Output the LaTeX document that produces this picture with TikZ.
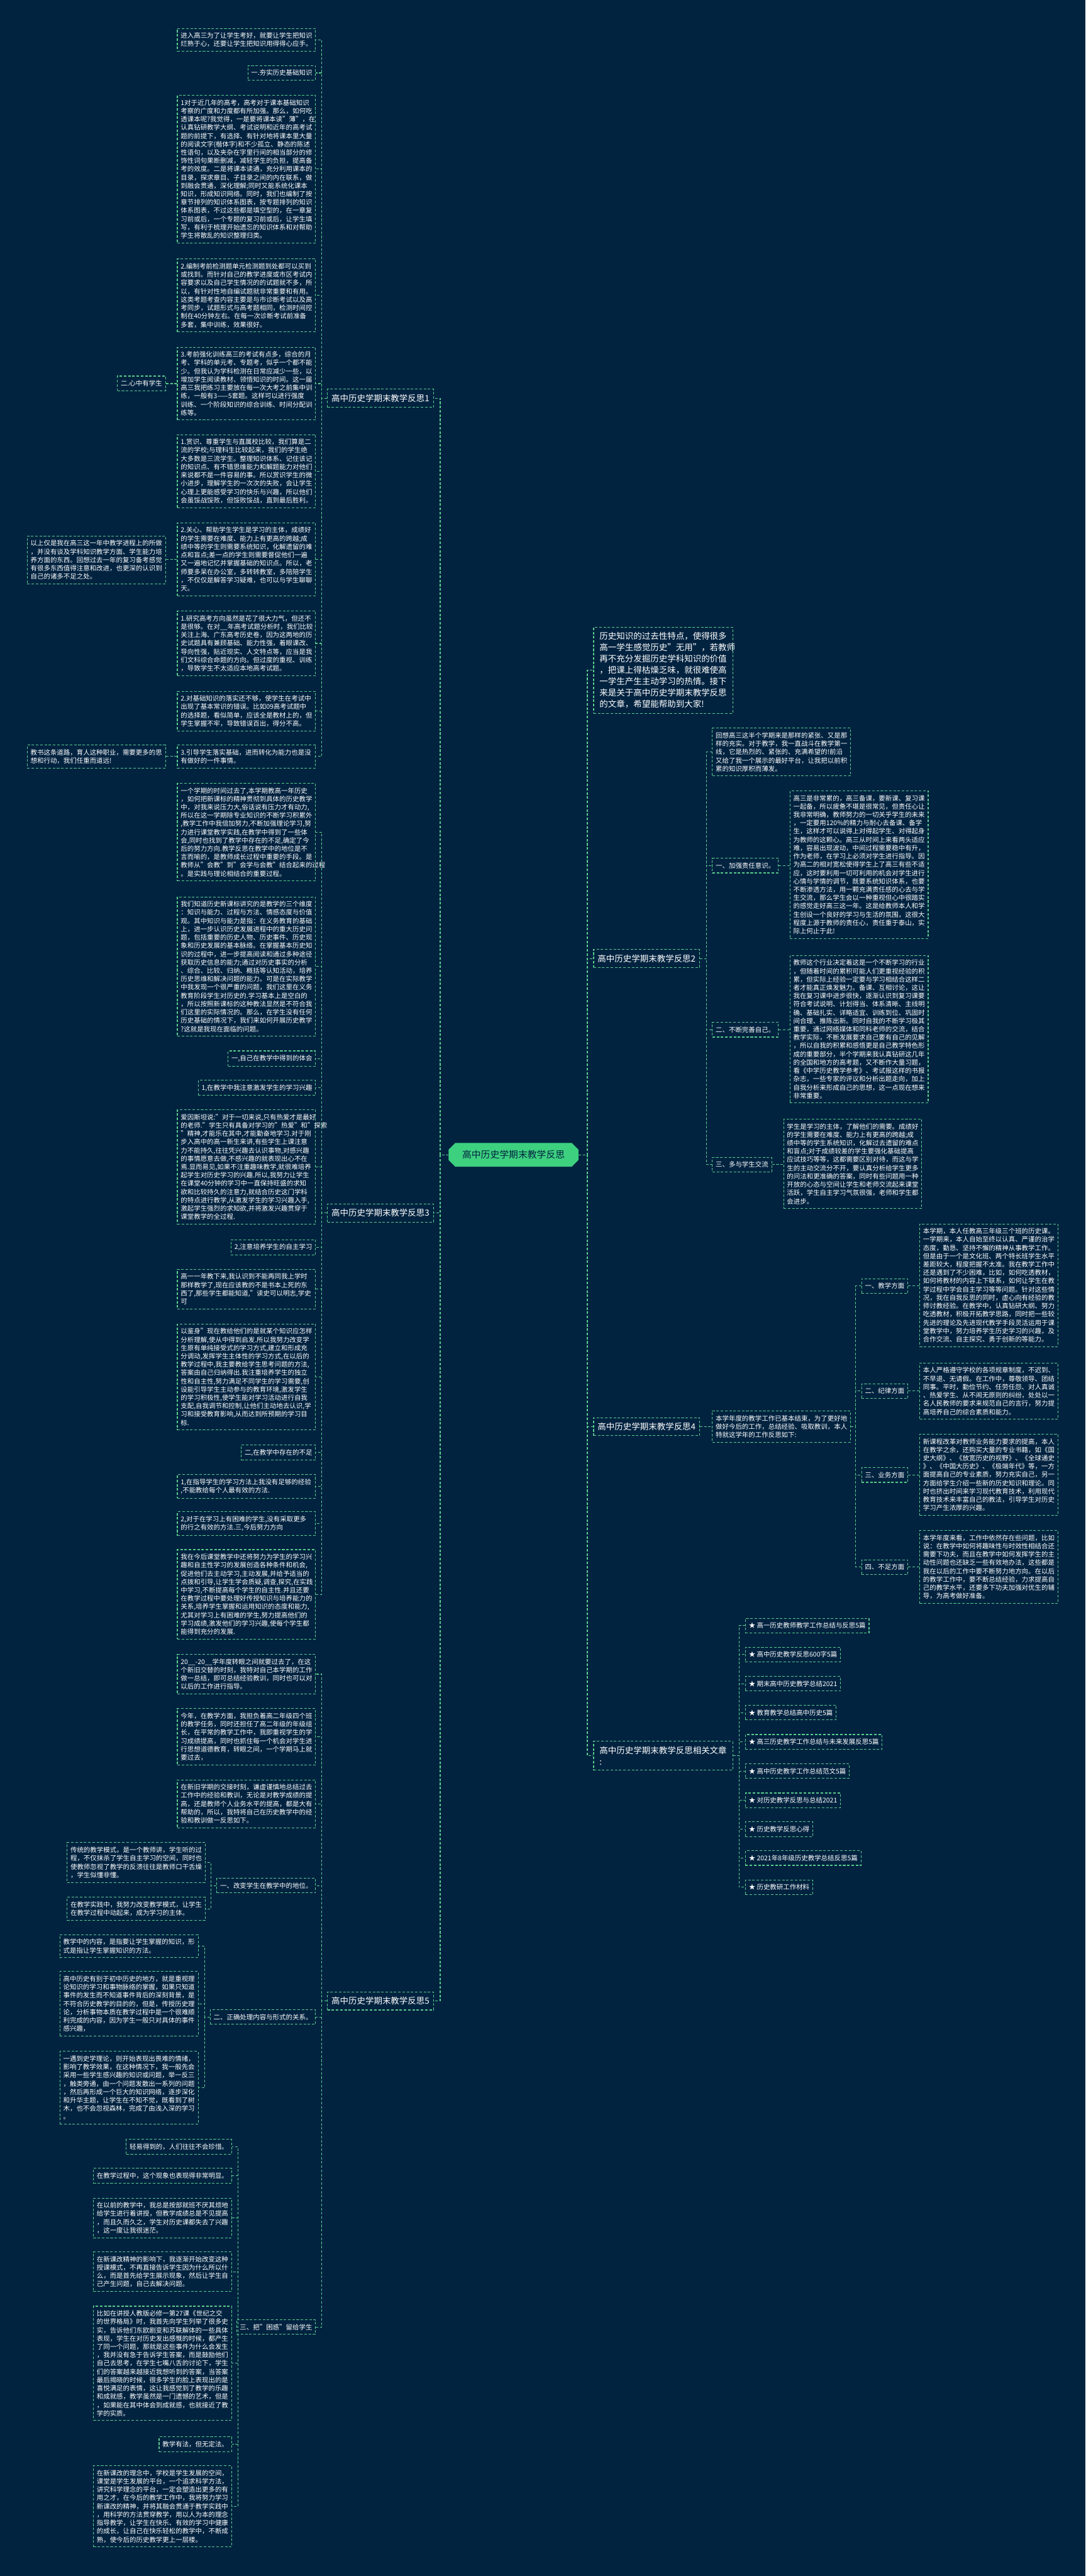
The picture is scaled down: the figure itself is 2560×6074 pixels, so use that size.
\documentclass[tikz,border=0pt]{standalone}
\usepackage{fontspec}
\setmainfont{Noto Sans CJK SC}
\usetikzlibrary{shapes.misc}
\definecolor{bgnavy}{HTML}{022340}
\definecolor{lineg}{HTML}{58CC8C}
\definecolor{rootg}{HTML}{3DD07F}
\newcommand\fsa{\fontsize{15.5pt}{19.6pt}\selectfont}
\newcommand\fsb{\fontsize{20pt}{26.7pt}\selectfont}
\newcommand\fsc{\fontsize{22pt}{28pt}\selectfont}

\begin{document}
\begin{tikzpicture}[x=1pt,y=-1pt,
  link/.style={draw=lineg,line width=1.6pt,dash pattern=on 6pt off 4pt},
  box/.style={link,text=white,font=\fsa,inner xsep=8pt,inner ysep=10pt,align=left},
  para/.style={box,text width=310pt},
  head/.style={box,font=\fsb,inner xsep=9.5pt,inner ysep=12pt},
  intro/.style={head,text width=300pt,inner xsep=14pt}]
\fill[bgnavy] (0,0) rectangle (2560,6074);

\node[chamfered rectangle,chamfered rectangle xsep=12pt,fill=rootg,text=bgnavy,font=\fsc,inner xsep=20pt,inner ysep=14pt] (root) at (1211,2723) {高中历史学期末教学反思};

% left branches
\node[head,anchor=east] (L1) at (1023,939) {高中历史学期末教学反思1};
\node[head,anchor=east] (L3) at (1023,2860) {高中历史学期末教学反思3};
\node[head,anchor=east] (L5) at (1023,4718) {高中历史学期末教学反思5};

\node[para,anchor=north east] (c1) at (745,66) {进入高三为了让学生考好，就要让学生把知识\\烂熟于心，还要让学生把知识用得得心应手。};
\node[box,anchor=east] (c2) at (745,172) {一.夯实历史基础知识};
\node[para,anchor=north east] (c3) at (745,224) {1对于近几年的高考，高考对于课本基础知识\\考察的广度和力度都有所加强。那么，如何吃\\透课本呢?我觉得，一是要将课本读"薄"，在\\认真钻研教学大纲、考试说明和近年的高考试\\题的前提下，有选择、有针对地将课本里大量\\的阅读文字(楷体字)和不少孤立、静态的陈述\\性语句，以及夹杂在字里行间的相当部分的修\\饰性词句果断删减，减轻学生的负担，提高备\\考的效度。二是将课本读通，充分利用课本的\\目录，探求章目、子目录之间的内在联系，做\\到融会贯通，深化理解;同时又能系统化课本\\知识，形成知识网络。同时，我们也编制了按\\章节排列的知识体系图表，按专题排列的知识\\体系图表，不过这些都是填空型的，在一章复\\习前或后，一个专题的复习前或后，让学生填\\写，有利于梳理开始遗忘的知识体系和对帮助\\学生将散乱的知识整理归类。};
\node[para,anchor=north east] (c4) at (745,610) {2.编制考前检测题单元检测题到处都可以买到\\或找到。而针对自己的教学进度或市区考试内\\容要求以及自己学生情况的的试题就不多，所\\以，有针对性地自编试题就非常重要和有用。\\这类考题考查内容主要是与市诊断考试以及高\\考同步，试题形式与高考题相同，检测时间控\\制在40分钟左右。在每一次诊断考试前准备\\多套，集中训练，效果很好。};
\node[para,anchor=north east] (c5) at (745,818) {3.考前强化训练高三的考试有点多，综合的月\\考、学科的单元考、专题考，似乎一个都不能\\少。但我认为学科检测在日常应减少一些，以\\增加学生阅读教材、领悟知识的时间。这一届\\高三我把练习主要放在每一次大考之前集中训\\练，一般有3——5套题。这样可以进行强度\\训练、一个阶段知识的综合训练、时间分配训\\练等。};
\node[para,anchor=north east] (c6) at (745,1024) {1.赏识、尊重学生与直属校比较，我们算是二\\流的学校;与理科生比较起来，我们的学生绝\\大多数是三流学生。整理知识体系、记住该记\\的知识点、有不错思维能力和解题能力对他们\\来说都不是一件容易的事。所以赏识学生的微\\小进步，理解学生的一次次的失败，会让学生\\心理上更能感受学习的快乐与兴趣，所以他们\\会虽馁战馁败，但馁败馁战，直到最后胜利。};
\node[para,anchor=north east] (c7) at (745,1232) {2.关心、帮助学生学生是学习的主体，成绩好\\的学生需要在难度、能力上有更高的跨越;成\\绩中等的学生则需要系统知识，化解遗留的难\\点和盲点;差一点的学生则需要督促他们一遍\\又一遍地记忆并掌握基础的知识点。所以，老\\师要多呆在办公室，多转转教室，多陪陪学生\\，不仅仅是解答学习疑难，也可以与学生聊聊\\天。};
\node[para,anchor=north east] (c8) at (745,1440) {1.研究高考方向虽然是花了很大力气，但还不\\是很够。在对\_\_年高考试题分析时，我们比较\\关注上海、广东高考历史卷，因为这两地的历\\史试题具有兼顾基础、能力性强，着眼课改、\\导向性强，贴近现实、人文特点等，应当是我\\们文科综合命题的方向。但过度的重视、训练\\，导致学生不太适应本地高考试题。};
\node[para,anchor=north east] (c9) at (745,1629) {2.对基础知识的落实还不够，使学生在考试中\\出现了基本常识的错误。比如09高考试题中\\的选择题，看似简单，应该全是教材上的，但\\学生掌握不牢，导致错误百出，得分不高。};
\node[para,anchor=north east] (c10) at (745,1756) {3.引导学生落实基础，进而转化为能力也是没\\有做好的一件事情。};
\node[box,anchor=east] (k5) at (391,904) {二.心中有学生};
\node[para,anchor=north east] (k7) at (391,1263) {以上仅是我在高三这一年中教学进程上的所做\\，并没有谈及学科知识教学方面、学生能力培\\养方面的东西。回想过去一年的复习备考感觉\\有很多东西值得注意和改进，也更深的认识到\\自己的诸多不足之处。};
\node[para,anchor=north east] (k10) at (391,1756) {教书这条道路，育人这种职业，需要更多的思\\想和行动，我们任重而道远!};

\node[para,anchor=north east] (d1) at (745,1846) {一个学期的时间过去了,本学期教高一年历史\\，如何把新课标的精神贯彻到具体的历史教学\\中，对我来说压力大,俗话说有压力才有动力,\\所以在这一学期除专业知识的不断学习积累外\\,教学工作中我倍加努力,不断加强理论学习,努\\力进行课堂教学实践,在教学中得到了一些体\\会,同时也找到了教学中存在的不足,确定了今\\后的努力方向.教学反思在教学中的地位是不\\言而喻的，是教师成长过程中重要的手段。是\\教师从"会教"到"会学与会教"结合起来的过程\\。是实践与理论相结合的重要过程。};
\node[para,anchor=north east] (d2) at (745,2114) {我们知道历史新课标讲究的是教学的三个维度\\：知识与能力、过程与方法、情感态度与价值\\观。其中知识与能力是指：在义务教育的基础\\上，进一步认识历史发展进程中的重大历史问\\题，包括重要的历史人物、历史事件、历史现\\象和历史发展的基本脉络。在掌握基本历史知\\识的过程中，进一步提高阅读和通过多种途径\\获取历史信息的能力;通过对历史事实的分析\\、综合、比较、归纳、概括等认知活动，培养\\历史思维和解决问题的能力。可是在实际教学\\中我发现一个很严重的问题，我们这里在义务\\教育阶段学生对历史的.学习基本上是空白的\\，所以按照新课标的这种教法显然是不符合我\\们这里的实际情况的。那么，在学生没有任何\\历史基础的情况下，我们来如何开展历史教学\\?这就是我现在面临的问题。};
\node[box,anchor=east] (d3) at (745,2496) {一,自己在教学中得到的体会};
\node[box,anchor=east] (d4) at (745,2565) {1,在教学中我注意激发学生的学习兴趣};
\node[para,anchor=north east] (d5) at (745,2616) {爱因斯坦说:"对于一切来说,只有热爱才是最好\\的老师."学生只有具备对学习的"热爱"和"探索\\"精神,才能乐在其中,才能勤奋地学习.对于刚\\步入高中的高一新生来讲,有些学生上课注意\\力不能持久,往往凭兴趣去认识事物,对感兴趣\\的事情愿意去做,不感兴趣的就表现出心不在\\焉.显而易见,如果不注重趣味教学,就很难培养\\起学生对历史学习的兴趣.所以,我努力让学生\\在课堂40分钟的学习中一直保持旺盛的求知\\欲和比较持久的注意力,就结合历史这门学科\\的特点进行教学,从激发学生的学习兴趣入手,\\激起学生强烈的求知欲,并将激发兴趣贯穿于\\课堂教学的全过程.};
\node[box,anchor=east] (d6) at (745,2941) {2,注意培养学生的自主学习};
\node[para,anchor=north east] (d7) at (745,2992) {高一一年教下来,我认识到不能再同我上学时\\那样教学了,现在应该教的不是书本上死的东\\西了,那些学生都能知道,"读史可以明志,学史\\可};
\node[para,anchor=north east] (d8) at (745,3121) {以鉴身"现在教给他们的是就某个知识应怎样\\分析理解,使从中得到启发.所以我努力改变学\\生原有单纯接受式的学习方式,建立和形成充\\分调动,发挥学生主体性的学习方式,在以后的\\教学过程中,我主要教给学生思考问题的方法,\\答案由自己归纳得出.我注重培养学生的独立\\性和自主性,努力满足不同学生的学习需要,创\\设能引导学生主动参与的教育环境,激发学生\\的学习积极性,使学生能对学习活动进行自我\\支配,自我调节和控制,让他们主动地去认识,学\\习和接受教育影响,从而达到所预期的学习目\\标.};
\node[box,anchor=east] (d9) at (745,3425) {二,在教学中存在的不足};
\node[para,anchor=north east] (d10) at (745,3476) {1,在指导学生的学习方法上我没有足够的经验\\,不能教给每个人最有效的方法.};
\node[para,anchor=north east] (d11) at (745,3564) {2,对于在学习上有困难的学生,没有采取更多\\的行之有效的方法.三,今后努力方向};
\node[para,anchor=north east] (d12) at (745,3653) {我在今后课堂教学中还将努力为学生的学习兴\\趣和自主性学习的发展创造各种条件和机会,\\促进他们去主动学习,主动发展,并给予适当的\\点拨和引导,让学生学会质疑,调查,探究,在实践\\中学习,不断提高每个学生的自主性.并且还要\\在教学过程中要处理好传授知识与培养能力的\\关系,培养学生掌握和运用知识的态度和能力,\\尤其对学习上有困难的学生,努力提高他们的\\学习成绩,激发他们的学习兴趣,使每个学生都\\能得到充分的发展.};

\node[para,anchor=north east] (e1) at (745,3900) {20\_\_-20\_\_学年度转眼之间就要过去了，在这\\个新旧交替的时刻，我特对自己本学期的工作\\做一总结，即可总结经验教训，同时也可以对\\以后的工作进行指导。};
\node[para,anchor=north east] (e2) at (745,4028) {今年，在教学方面，我担负着高二年级四个班\\的教学任务，同时还担任了高二年级的年级组\\长，在平常的教学工作中，我即重视学生的学\\习成绩提高，同时也抓住每一个机会对学生进\\行思想道德教育，转眼之间，一个学期马上就\\要过去，};
\node[para,anchor=north east] (e3) at (745,4196) {在新旧学期的交接时刻，谦虚谨慎地总结过去\\工作中的经验和教训，无论是对教学成绩的提\\高，还是教师个人业务水平的提高，都是大有\\帮助的，所以，我特将自己在历史教学中的经\\验和教训做一反思如下。};
\node[box,anchor=east] (e4) at (745,4446) {一、改变学生在教学中的地位。};
\node[box,anchor=east] (e5) at (745,4756) {二、正确处理内容与形式的关系。};
\node[box,anchor=east] (e6) at (745,5487) {三、把"困惑"留给学生};
\node[para,anchor=north east] (f1) at (485,4344) {传统的教学模式，是一个教师讲，学生听的过\\程，不仅抹杀了学生自主学习的空间，同时也\\使教师忽视了教学的反溃往往是教师口干舌燥\\，学生似懂非懂。};
\node[para,anchor=north east] (f2) at (485,4473) {在教学实践中，我努力改变教学模式，让学生\\在教学过程中动起来，成为学习的主体。};
\node[para,anchor=north east] (g1) at (468,4561) {教学中的内容，是指要让学生掌握的知识，形\\式是指让学生掌握知识的方法。};
\node[para,anchor=north east] (g2) at (468,4648) {高中历史有别于初中历史的地方，就是重视理\\论知识的学习和事物脉络的掌握，如果只知道\\事件的发生而不知道事件背后的深刻背景，是\\不符合历史教学的目的的，但是，传授历史理\\论，分析事物本质在教学过程中是一个很难顺\\利完成的内容，因为学生一般只对具体的事件\\感兴趣，};
\node[para,anchor=north east] (g3) at (468,4836) {一遇到史学理论，则开始表现出畏难的情绪，\\影响了教学效果，在这种情况下，我一般先会\\采用一些学生感兴趣的知识或问题，举一反三\\，触类旁通，由一个问题发散出一系列的问题\\，然后再形成一个巨大的知识网络，逐步深化\\和升华主题，让学生在不知不觉，既看到了树\\木，也不会忽视森林，完成了由浅入深的学习\\。};
\node[box,anchor=east] (h1) at (547,5062) {轻易得到的，人们往往不会珍惜。};
\node[box,anchor=east] (h2) at (547,5130) {在教学过程中，这个现象也表现得非常明显。};
\node[para,anchor=north east] (h3) at (547,5182) {在以前的教学中，我总是按部就班不厌其烦地\\给学生进行着讲授，但教学成绩总是不见提高\\，而且久而久之，学生对历史课都失去了兴趣\\，这一度让我很迷茫。};
\node[para,anchor=north east] (h4) at (547,5309) {在新课改精神的影响下，我逐渐开始改变这种\\授课模式，不再直接告诉学生因为什么所以什\\么，而是首先给学生展示现象，然后让学生自\\己产生问题，自己去解决问题。};
\node[para,anchor=north east] (h5) at (547,5437) {比如在讲授人教版必修一第27课《世纪之交\\的世界格局》时，我首先向学生列举了很多史\\实，告诉他们东欧剧变和苏联解体的一些具体\\表现，学生在对历史发出感慨的时候，都产生\\了同一个问题，那就是这些事件为什么会发生\\，我并没有急于告诉学生答案，而是鼓励他们\\自己去思考，在学生七嘴八舌的讨论下，学生\\们的答案越来越接近我想听到的答案，当答案\\最后揭晓的时候，很多学生的脸上表现出的是\\喜悦满足的表情，这让我感觉到了教学的乐趣\\和成就感，教学虽然是一门遗憾的艺术，但是\\，如果能在其中体会到成就感，也就接近了教\\学的实质。};
\node[box,anchor=east] (h6) at (547,5763) {教学有法，但无定法。};
\node[para,anchor=north east] (h7) at (547,5813) {在新课改的理念中，学校是学生发展的空间，\\课堂是学生发展的平台，一个追求科学方法，\\讲究科学理念的平台，一定会塑造出更多的有\\用之才，在今后的教学工作中，我将努力学习\\新课改的精神，并将其融会贯通于教学实践中\\，用科学的方法贯穿教学，用以人为本的理念\\指导教学，让学生在快乐、有效的学习中健康\\的成长，让自己在快乐轻松的教学中，不断成\\熟，使今后的历史教学更上一层楼。};

% right branches
\node[intro,anchor=north west] (R0) at (1399,1478) {历史知识的过去性特点，使得很多\\高一学生感觉历史"无用"，若教师\\再不充分发掘历史学科知识的价值\\，把课上得枯燥乏味，就很难使高\\一学生产生主动学习的热情。接下\\来是关于高中历史学期末教学反思\\的文章，希望能帮助到大家!};
\node[head,anchor=west] (R2) at (1399,2260) {高中历史学期末教学反思2};
\node[head,anchor=west] (R4) at (1399,3364) {高中历史学期末教学反思4};
\node[intro,anchor=north west] (R6) at (1399,4105) {高中历史学期末教学反思相关文章\\:};

\node[para,anchor=north west] (s1) at (1679,1716) {回想高三这半个学期来是那样的紧张、又是那\\样的充实。对于教学，我一直战斗在教学第一\\线，它是热烈的、紧张的、充满希望的!前沿\\又给了我一个展示的最好平台，让我把以前积\\累的知识厚积而薄发。};
\node[box,anchor=west] (s2) at (1679,2041) {一、加强责任意识。};
\node[box,anchor=west] (s3) at (1679,2428) {二、不断完善自己。};
\node[box,anchor=west] (s4) at (1679,2746) {三、多与学生交流};
\node[para,anchor=north west] (t2) at (1862,1864) {高三是非常累的，高三备课，要新课、复习课\\一起备，所以疲惫不堪是很常见，但责任心让\\我非常明确，教师努力的一切关乎学生的未来\\，一定要用120\%的精力与耐心去备课、备学\\生，这样才可以说得上对得起学生、对得起身\\为教师的这颗心。高三从时间上来看两头适应\\难，容易出现波动，中间过程需要稳中有升，\\作为老师，在学习上必须对学生进行指导。因\\为高二的相对宽松使得学生上了高三有些不适\\应，这时要利用一切可利用的机会对学生进行\\心情与学情的调节，既要系统知识体系，也要\\不断渗透方法，用一颗充满责任感的心去与学\\生交流，那么学生会以一种重视但心中很踏实\\的感觉走好高三这一年。这是给教师本人和学\\生创设一个良好的学习与生活的氛围，这很大\\程度上源于教师的责任心，责任重于泰山，实\\际上何止于此!};
\node[para,anchor=north west] (t3) at (1862,2252) {教师这个行业决定着这是一个不断学习的行业\\，但随着时间的累积可能人们更重视经验的积\\累，但实际上经验一定要与学习相结合这样二\\者才能真正焕发魅力。备课、互相讨论，这让\\我在复习课中进步很快，逐渐认识到复习课要\\符合考试说明、计划得当、体系清晰、主线明\\确、基础扎实、详略适宜、训练到位、巩固时\\间合理、推陈出新。同时自我的不断学习极其\\重要，通过网络媒体和同科老师的交流，结合\\教学实际，不断发展要求自己要有自己的见解\\，所以自我的积累和感悟更是自己教学特色形\\成的重要部分，半个学期来我认真钻研这几年\\的全国和地方的高考题，又不断作大量习题，\\看《中学历史教学参考》、考试报这样的书报\\杂志，一些专家的评议和分析出题走向，加上\\自我分析来形成自己的思想，这一点现在想来\\非常重要。};
\node[para,anchor=north west] (t4) at (1847,2638) {学生是学习的主体，了解他们的需要。成绩好\\的学生需要在难度、能力上有更高的跨越;成\\绩中等的学生系统知识，化解过去遗留的难点\\和盲点;对于成绩较差的学生要强化基础提高\\应试技巧等等，这都需要区别对待，而这与学\\生的主动交流分不开，要认真分析给学生更多\\的问法和更准确的答案，同时有些问题用一种\\开放的心态与空间让学生和老师交流起来课堂\\活跃，学生自主学习气氛很强，老师和学生都\\会进步。};

\node[para,anchor=north west] (u1) at (1679,3326) {本学年度的教学工作已基本结束，为了更好地\\做好今后的工作，总结经验、吸取教训，本人\\特就这学年的工作反思如下:};
\node[box,anchor=west] (v1) at (2031,3032) {一、教学方面};
\node[box,anchor=west] (v2) at (2031,3280) {二、纪律方面};
\node[box,anchor=west] (v3) at (2031,3478) {三、业务方面};
\node[box,anchor=west] (v4) at (2031,3695) {四、不足方面};
\node[para,anchor=north west] (w1) at (2168,2885) {本学期，本人任教高三年级三个班的历史课。\\一学期来，本人自始至终以认真、严谨的治学\\态度，勤恳、坚持不懈的精神从事教学工作。\\但是由于一个是文化班、两个特长班学生水平\\差距较大，程度把握不太准。我在教学工作中\\还是遇到了不少困难，比如，如何吃透教材，\\如何将教材的内容上下联系，如何让学生在教\\学过程中学会自主学习等等问题。针对这些情\\况，我在自我反思的同时，虚心向有经验的教\\师讨教经验。在教学中，认真钻研大纲、努力\\吃透教材，积极开拓教学思路，同时把一些较\\先进的理论及先进现代教学手段灵活运用于课\\堂教学中，努力培养学生历史学习的兴趣，及\\合作交流、自主探究、勇于创新的等能力。};
\node[para,anchor=north west] (w2) at (2168,3213) {本人严格遵守学校的各项规章制度，不迟到、\\不早退、无请假。在工作中，尊敬领导、团结\\同事。平时，勤俭节约、任劳任怨、对人真诚\\、热爱学生、从不闹无原则的纠纷，处处以一\\名人民教师的要求来规范自己的言行，努力提\\高培养自己的综合素质和能力。};
\node[para,anchor=north west] (w3) at (2168,3381) {新课程改革对教师业务能力要求的提高，本人\\在教学之余，还购买大量的专业书籍，如《国\\史大纲》、《放宽历史的视野》、《全球通史\\》、《中国大历史》、《极端年代》等，一方\\面提高自己的专业素质，努力充实自己，另一\\方面给学生介绍一些新的历史知识和理论。同\\时也挤出时间来学习现代教育技术，利用现代\\教育技术来丰富自己的教法，引导学生对历史\\学习产生浓厚的兴趣。};
\node[para,anchor=north west] (w4) at (2168,3608) {本学年度来看，工作中依然存在些问题，比如\\说：在教学中如何将趣味性与时效性相结合还\\需要下功夫，而且在教学中如何发挥学生的主\\动性问题也还缺乏一些有效地办法，这些都是\\我在以后的工作中要不断努力地方向。在以后\\的教学工作中，要不断总结经验，力求提高自\\己的教学水平，还要多下功夫加强对优生的辅\\导，为高考做好准备。};

\node[box,anchor=west] (z1) at (1757,3833) {★ 高一历史教师教学工作总结与反思5篇};
\node[box,anchor=west] (z2) at (1757,3901) {★ 高中历史教学反思600字5篇};
\node[box,anchor=west] (z3) at (1757,3970) {★ 期末高中历史教学总结2021};
\node[box,anchor=west] (z4) at (1757,4038) {★ 教育教学总结高中历史5篇};
\node[box,anchor=west] (z5) at (1757,4107) {★ 高三历史教学工作总结与未来发展反思5篇};
\node[box,anchor=west] (z6) at (1757,4176) {★ 高中历史教学工作总结范文5篇};
\node[box,anchor=west] (z7) at (1757,4245) {★ 对历史教学反思与总结2021};
\node[box,anchor=west] (z8) at (1757,4313) {★ 历史教学反思心得};
\node[box,anchor=west] (z9) at (1757,4381) {★ 2021年8年级历史教学总结反思5篇};
\node[box,anchor=west] (z10) at (1757,4450) {★ 历史教研工作材料};

% buses
\coordinate (xl) at (1038,0);
\coordinate (xr) at (1385,0);
\coordinate (xa) at (759,0);
\coordinate (xe4) at (497,0);
\coordinate (xe5) at (483,0);
\coordinate (xe6) at (561,0);
\coordinate (xq) at (1666,0);
\coordinate (xu) at (2018,0);
\coordinate (xz) at (1743,0);

\foreach \n in {L1,L3,L5} \draw[link] (root.west) -- (root.west -| xl) |- (\n.east);
\foreach \n in {R0,R2,R4,R6} \draw[link] (root.east) -- (root.east -| xr) |- (\n.west);
\foreach \i in {1,...,10} \draw[link] (L1.west) -- (L1.west -| xa) |- (c\i.east);
\foreach \i in {1,...,12} \draw[link] (L3.west) -- (L3.west -| xa) |- (d\i.east);
\foreach \i in {1,...,6} \draw[link] (L5.west) -- (L5.west -| xa) |- (e\i.east);
\foreach \i in {1,2} \draw[link] (e4.west) -- (e4.west -| xe4) |- (f\i.east);
\foreach \i in {1,2,3} \draw[link] (e5.west) -- (e5.west -| xe5) |- (g\i.east);
\foreach \i in {1,...,7} \draw[link] (e6.west) -- (e6.west -| xe6) |- (h\i.east);
\draw[link] (c5.west) -- (c5.west -| k5.east);
\draw[link] (c7.west) -- (c7.west -| k7.east);
\draw[link] (c10.west) -- (c10.west -| k10.east);

\foreach \i in {1,...,4} \draw[link] (R2.east) -- (R2.east -| xq) |- (s\i.west);
\foreach \i in {2,3,4} \draw[link] (s\i.east) -- (s\i.east -| t\i.west);
\draw[link] (R4.east) -- (R4.east -| xq) |- (u1.west);
\foreach \i in {1,...,4} \draw[link] (u1.east) -- (u1.east -| xu) |- (v\i.west);
\foreach \i in {1,...,4} \draw[link] (v\i.east) -- (v\i.east -| w\i.west);
\foreach \i in {1,...,10} \draw[link] (R6.east) -- (R6.east -| xz) |- (z\i.west);
\end{tikzpicture}
\end{document}
